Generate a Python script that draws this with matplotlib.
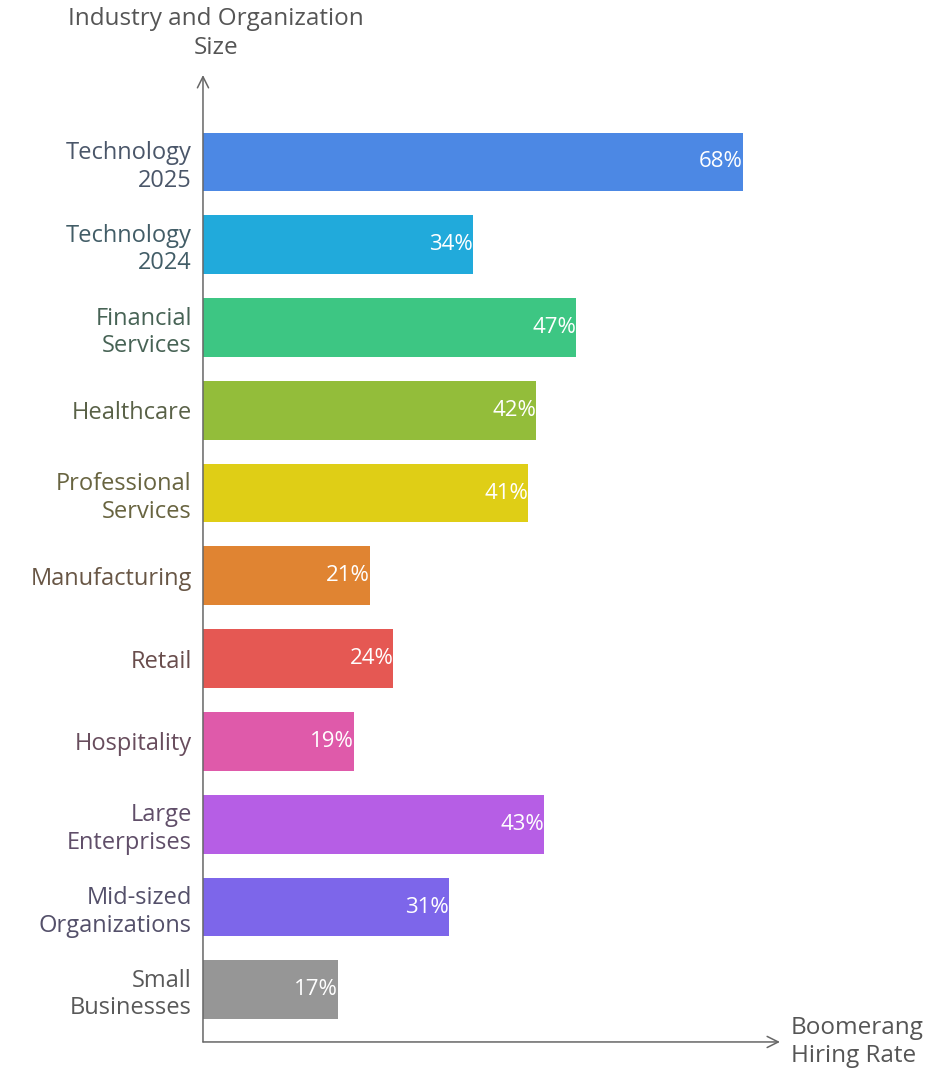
import matplotlib.pyplot as plt
import matplotlib.colors as mcolors
import numpy as np

categories = ["Technology\n2025", "Technology\n2024", "Financial\nServices", "Healthcare",
              "Professional\nServices", "Manufacturing", "Retail", "Hospitality",
              "Large\nEnterprises", "Mid-sized\nOrganizations", "Small\nBusinesses"]
rates = [68, 34, 47, 42, 41, 21, 24, 19, 43, 31, 17]
colors = ["#4C88E4", "#21AADB", "#3DC683", "#93BD3A", "#DFCE16", "#E08432",
          "#E55853", "#DF5AAA", "#B65EE5", "#7D66EA", "#969696"]

plt.rcParams["font.family"] = ["Open Sans", "DejaVu Sans"]

fig = plt.figure(figsize=(9.38, 10.70), dpi=100)
ax = fig.add_axes([0.2164, 0.0262, 0.6151, 0.9037])

y = np.arange(len(categories))
ax.barh(y, rates, height=0.71, color=colors)
ax.set_xlim(0, 72.7)
ax.set_ylim(10.63, -1.05)

for yi, r in zip(y, rates):
    ax.text(r, yi, f"{r}%", ha="right", va="center", color="white", fontsize=16)

def dark(c):
    rgb = np.array(mcolors.to_rgb(c))
    base = np.array(mcolors.to_rgb("#4a4a4a"))
    return tuple(0.2 * rgb + 0.8 * base)

ax.set_yticks(y)
ax.set_yticklabels(categories, fontsize=17, linespacing=1.2)
for lbl, c in zip(ax.get_yticklabels(), colors):
    lbl.set_color(dark(c))
ax.tick_params(axis="y", length=0, pad=8)
ax.set_xticks([])

for s in ax.spines.values():
    s.set_visible(False)

# axis arrows
ax.annotate("", xy=(0, 0), xytext=(0, 1), xycoords="axes fraction",
            arrowprops=dict(arrowstyle="<-", color="#666666", lw=1.1,
                            mutation_scale=20, shrinkA=0, shrinkB=0))
ax.annotate("", xy=(0, 0), xytext=(1, 0), xycoords="axes fraction",
            arrowprops=dict(arrowstyle="<-", color="#666666", lw=1.1,
                            mutation_scale=20, shrinkA=0, shrinkB=0))

fig.text(216 / 938, 1 - 7 / 1070, "Industry and Organization\nSize", ha="center", va="top",
         fontsize=17.5, color="#555555", linespacing=1.3)
fig.text(791 / 938, 1 - 1016 / 1070, "Boomerang\nHiring Rate", ha="left", va="top",
         fontsize=17.5, color="#555555", linespacing=1.2)

fig.savefig("out.png", dpi=100)
